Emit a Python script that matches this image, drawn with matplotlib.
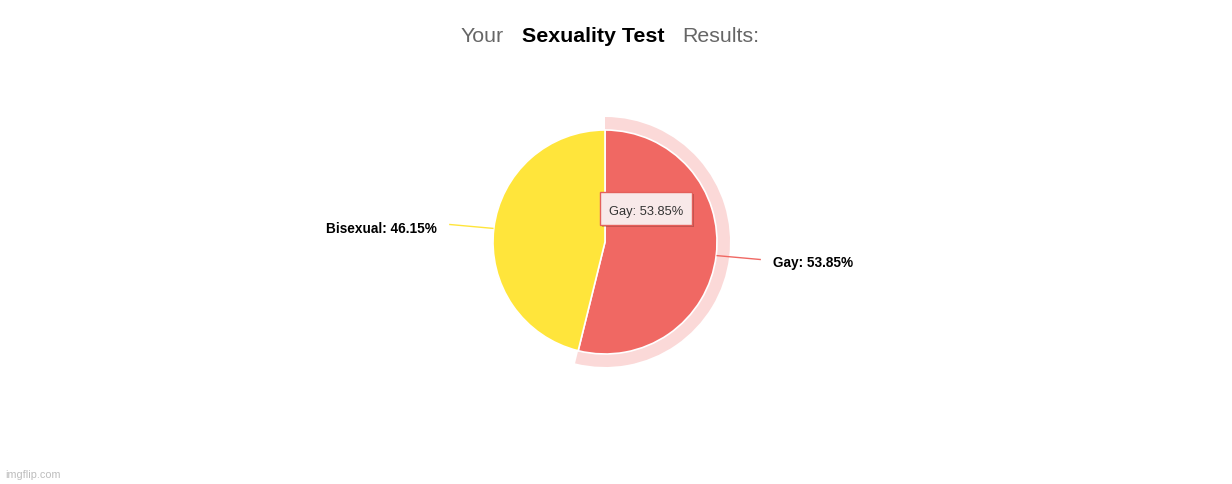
import numpy as np
import matplotlib
matplotlib.use("Agg")
import matplotlib.pyplot as plt
from matplotlib.patches import FancyBboxPatch

categories = ["Gay", "Bisexual"]
values = [53.85, 46.15]
colors = ["#F06863", "#FFE53B"]
halo_color = "#FBD9D8"
title_parts = ["Your", "Sexuality Test", "Results:"]

W, H = 1232, 484
fig = plt.figure(figsize=(W / 100, H / 100), dpi=100)
ax = fig.add_axes([0, 0, 1, 1])

cx, cy = 605, 242
r = 112

# halo behind the highlighted slice
halo, _ = ax.pie(values, radius=125, center=(cx, cy), startangle=90, counterclock=False,
                 colors=[halo_color, (0, 0, 0, 0)],
                 wedgeprops=dict(width=14, linewidth=0), frame=True)
wedges, _ = ax.pie(values, radius=r, center=(cx, cy), startangle=90, counterclock=False,
                   colors=colors, wedgeprops=dict(edgecolor="white", linewidth=1.2), frame=True)
ax.set_xlim(0, W)
ax.set_ylim(0, H)
ax.set_aspect("equal")
ax.axis("off")

for w, cat, val, col in zip(wedges, categories, values, colors):
    mid = np.deg2rad((w.theta1 + w.theta2) / 2)
    x0, y0 = cx + (r + 1) * np.cos(mid), cy + (r + 1) * np.sin(mid)
    sgn = 1 if np.cos(mid) > 0 else -1
    x1, y1 = x0 + sgn * 43, y0 + np.sin(mid) * 32
    ax.plot([x0, x1], [y0, y1], color=col, lw=1, zorder=1)
    ax.text(x1 + sgn * 13, y1 - 4, f"{cat}: {val:.2f}%",
            ha="left" if sgn > 0 else "right", va="center",
            fontsize=9.8, fontweight="bold", family="Liberation Sans", color="#000")

# tooltip
bx, by, bw, bh = 600, 484 - 225, 92, 33
shadow = FancyBboxPatch((bx + 2, by - 2), bw, bh, boxstyle="square,pad=0",
                        fc="#00000035", ec="none", zorder=4)
ax.add_patch(shadow)
box = FancyBboxPatch((bx, by), bw, bh, boxstyle="square,pad=0",
                     fc="#F8E9E9", ec="#E4605B", lw=1, zorder=5)
ax.add_patch(box)
ax.text(bx + bw / 2, by + bh / 2 - 3, f"{categories[0]}: {values[0]:.2f}%", ha="center",
        va="center", fontsize=9.3, family="Liberation Sans", color="#333", zorder=6)

# title
ty = 484 - 36
ax.text(504, ty, title_parts[0], ha="right", va="center", fontsize=15.4,
        family="Liberation Sans", color="#666")
ax.text(593, ty, title_parts[1], ha="center", va="center", fontsize=15.4,
        fontweight="bold", family="Liberation Sans", color="#000")
ax.text(682, ty, title_parts[2], ha="left", va="center", fontsize=15.4,
        family="Liberation Sans", color="#666")

ax.text(5, 484 - 475, "imgflip.com", ha="left", va="center", fontsize=7.8,
        family="Liberation Sans", color="#bdbdbd")

fig.savefig("out.png", dpi=100, facecolor="white")
